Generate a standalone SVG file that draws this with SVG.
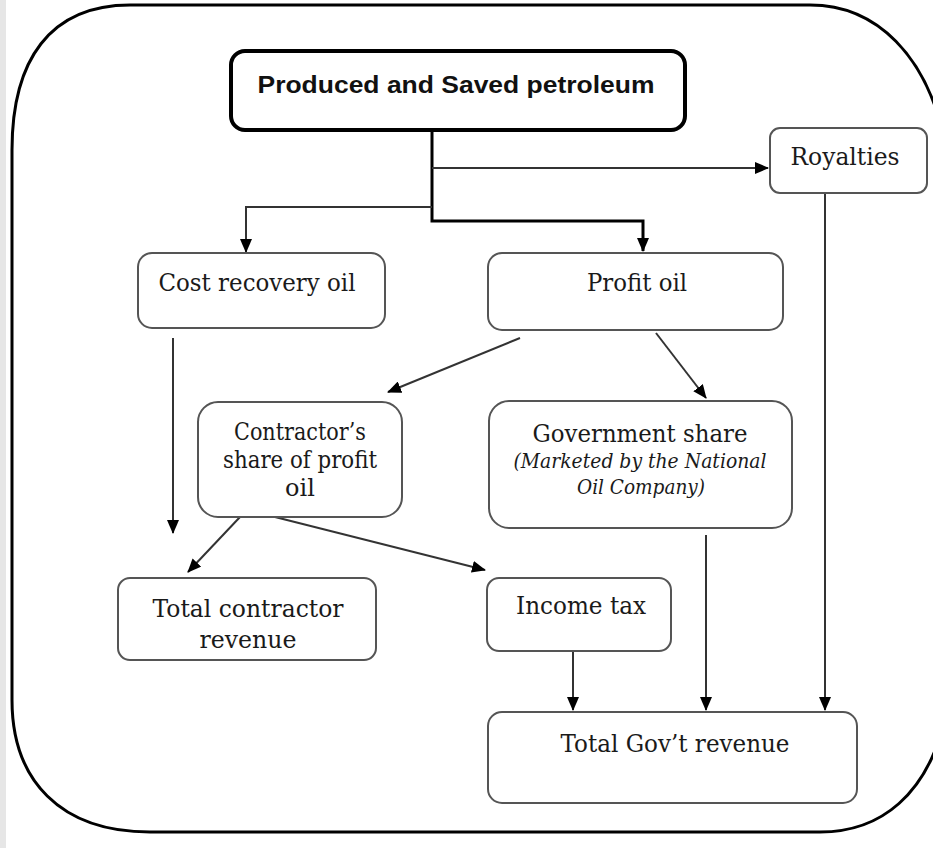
<svg xmlns="http://www.w3.org/2000/svg" width="933" height="848" viewBox="0 0 933 848">
<style>
.bx{fill:#fff;stroke:#555;stroke-width:2}
.t{font-family:"DejaVu Serif","Liberation Serif",serif;font-size:24px;fill:#1a1a1a;text-anchor:middle}
.ti{font-family:"DejaVu Serif","Liberation Serif",serif;font-size:19.5px;font-style:italic;fill:#1a1a1a;text-anchor:middle}
.c{fill:none;stroke:#333;stroke-width:2}
.ck{fill:none;stroke:#000;stroke-width:3}
</style>
<defs>
<marker id="ah" markerUnits="userSpaceOnUse" markerWidth="14" markerHeight="12" refX="13" refY="6" orient="auto">
<path d="M0,0 L14,6 L0,12 z" fill="#000"/>
</marker>
</defs>
<rect x="0" y="0" width="933" height="848" fill="#fff"/>
<rect x="0" y="0" width="6" height="848" fill="#e6e6e6"/>
<g id="frame">
<path d="M12,150 C12,60 50,5 130,5 L810,5 C880,5 925,60 942,130 L942,730 C925,790 885,832 820,832 L150,832 C60,832 12,780 12,700 Z" fill="none" stroke="#000" stroke-width="3"/>
</g>
<g id="connectors">
<path class="ck" d="M432,130 L432,221 L643,221 L643,251" marker-end="url(#ah)"/>
<path class="c" d="M432,168 L768,168" marker-end="url(#ah)"/>
<path class="c" d="M432,207 L246,207 L246,252" marker-end="url(#ah)"/>
<path class="c" d="M173,338 L173,533" marker-end="url(#ah)"/>
<path class="c" d="M520,338 L388,392" marker-end="url(#ah)"/>
<path class="c" d="M656,333 L706,398" marker-end="url(#ah)"/>
<path class="c" d="M240,517 L188,572" marker-end="url(#ah)"/>
<path class="c" d="M275,517 L485,570" marker-end="url(#ah)"/>
<path class="c" d="M573,651 L573,710" marker-end="url(#ah)"/>
<path class="c" d="M706,535 L706,710" marker-end="url(#ah)"/>
<path class="c" d="M825,193 L825,710" marker-end="url(#ah)"/>
</g>
<g id="n-produced">
<rect x="231" y="51" width="454" height="79" rx="14" fill="#fff" stroke="#000" stroke-width="4"/>
<text x="456" y="93" font-family="Liberation Sans,Arial,sans-serif" font-size="23" font-weight="bold" fill="#111" text-anchor="middle" textLength="397" lengthAdjust="spacingAndGlyphs">Produced and Saved petroleum</text>
</g>
<g id="n-royalties">
<rect class="bx" x="770" y="128" width="157" height="65" rx="10"/>
<text class="t" x="845" y="165" textLength="109" lengthAdjust="spacingAndGlyphs">Royalties</text>
</g>
<g id="n-cost">
<rect class="bx" x="138" y="253" width="247" height="75" rx="14"/>
<text class="t" x="257" y="291" textLength="197" lengthAdjust="spacingAndGlyphs">Cost recovery oil</text>
</g>
<g id="n-profit">
<rect class="bx" x="488" y="253" width="295" height="77" rx="14"/>
<text class="t" x="637" y="291" textLength="100" lengthAdjust="spacingAndGlyphs">Profit oil</text>
</g>
<g id="n-contractor-share">
<rect class="bx" x="198" y="402" width="204" height="115" rx="20"/>
<text class="t" x="300" y="440" textLength="132" lengthAdjust="spacingAndGlyphs">Contractor’s</text>
<text class="t" x="300" y="468" textLength="154" lengthAdjust="spacingAndGlyphs">share of profit</text>
<text class="t" x="300" y="496">oil</text>
</g>
<g id="n-gov-share">
<rect class="bx" x="489" y="401" width="303" height="127" rx="20"/>
<text class="t" x="640" y="442" textLength="215" lengthAdjust="spacingAndGlyphs">Government share</text>
<text class="ti" x="640" y="468" textLength="253" lengthAdjust="spacingAndGlyphs">(Marketed by the National</text>
<text class="ti" x="641" y="494" textLength="128" lengthAdjust="spacingAndGlyphs">Oil Company)</text>
</g>
<g id="n-total-contractor">
<rect class="bx" x="118" y="578" width="258" height="82" rx="12"/>
<text class="t" x="248" y="617" textLength="191" lengthAdjust="spacingAndGlyphs">Total contractor</text>
<text class="t" x="248" y="648" textLength="97" lengthAdjust="spacingAndGlyphs">revenue</text>
</g>
<g id="n-income-tax">
<rect class="bx" x="487" y="578" width="184" height="73" rx="12"/>
<text class="t" x="581" y="614" textLength="130" lengthAdjust="spacingAndGlyphs">Income tax</text>
</g>
<g id="n-total-gov">
<rect class="bx" x="488" y="712" width="369" height="91" rx="14"/>
<text class="t" x="675" y="752" textLength="229" lengthAdjust="spacingAndGlyphs">Total Gov’t revenue</text>
</g>
</svg>
